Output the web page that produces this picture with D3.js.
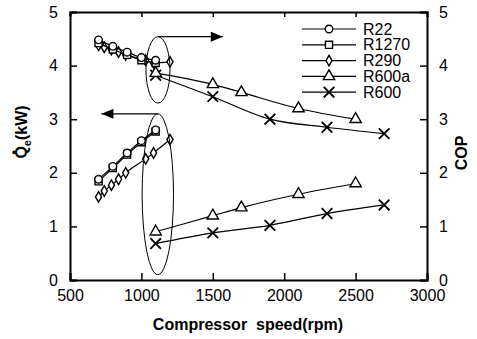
<!DOCTYPE html>
<html>
<head>
<meta charset="utf-8">
<script src="https://cdn.jsdelivr.net/npm/d3@7"></script>
<style>
  body { margin: 0; background: #fff; }
  text { font-family: "Liberation Sans", Arial, sans-serif; fill: #000; }
</style>
</head>
<body>
<svg id="chart" width="477" height="339"></svg>
<script>
// series names / markers
const names = ['R22', 'R1270', 'R290', 'R600a', 'R600']
const symbols = ['circle', 'square', 'diamond', 'triangle', 'cross']

// compressor speed (rpm) for each series
const speedR22 = [700, 800, 900, 1000, 1100]
const speedR1270 = [700, 800, 900, 1000, 1100]
const speedR290 = [700, 740, 790, 840, 890, 1030, 1085, 1200]
const speedR600a = [1100, 1500, 1700, 2100, 2500]
const speedR600 = [1100, 1500, 1900, 2300, 2700]

// cooling capacity Qe (kW)
const qeR22 = [1.88, 2.12, 2.37, 2.6, 2.8]
const qeR1270 = [1.84, 2.09, 2.34, 2.57, 2.77]
const qeR290 = [1.55, 1.66, 1.77, 1.88, 2.0, 2.26, 2.37, 2.62]
const qeR600a = [0.9, 1.2, 1.35, 1.6, 1.8]
const qeR600 = [0.68, 0.88, 1.02, 1.24, 1.4]

// COP
const copR22 = [4.48, 4.36, 4.25, 4.15, 4.1]
const copR1270 = [4.42, 4.3, 4.2, 4.1, 4.05]
const copR290 = [4.38, 4.34, 4.3, 4.25, 4.2, 4.1, 4.05, 4.07]
const copR600a = [3.86, 3.65, 3.5, 3.2, 3.0]
const copR600 = [3.82, 3.42, 3.0, 2.85, 2.73]

const xTicks = [500, 1000, 1500, 2000, 2500, 3000]
const yTicks = [0, 1, 2, 3, 4, 5]

const speeds = [speedR22, speedR1270, speedR290, speedR600a, speedR600]
const qes = [qeR22, qeR1270, qeR290, qeR600a, qeR600]
const cops = [copR22, copR1270, copR290, copR600a, copR600]

const svg = d3.select('#chart')
const margin = { left: 70, right: 427, top: 12, bottom: 280 }

const x = d3.scaleLinear().domain([500, 3000]).range([margin.left, margin.right])
const y = d3.scaleLinear().domain([0, 5]).range([margin.bottom, margin.top])
const fmt = d3.format('d')

// axes (inward ticks)
svg.append('g').attr('transform', `translate(0,${margin.bottom})`)
  .call(d3.axisBottom(x).tickValues(xTicks).tickFormat(fmt).tickSize(-7).tickPadding(10))
svg.append('g').attr('transform', `translate(0,${margin.top})`)
  .call(d3.axisTop(x).tickValues(xTicks).tickSize(-5).tickFormat(''))
svg.append('g').attr('transform', `translate(${margin.left},0)`)
  .call(d3.axisLeft(y).tickValues(yTicks).tickFormat(fmt).tickSize(-7).tickPadding(12))
svg.append('g').attr('transform', `translate(${margin.right},0)`)
  .call(d3.axisRight(y).tickValues(yTicks).tickFormat(fmt).tickSize(-7).tickPadding(12))

svg.selectAll('.domain').attr('stroke', '#000').attr('stroke-width', 2)
svg.selectAll('.tick line').attr('stroke', '#000').attr('stroke-width', 1.5)
svg.selectAll('.tick text').style('font-size', '16px').attr('fill', '#000')

// axis titles
svg.append('text')
  .attr('x', 248).attr('y', 330)
  .attr('text-anchor', 'middle')
  .style('font-size', '16px').style('font-weight', 'bold')
  .attr('xml:space', 'preserve')
  .text('Compressor  speed(rpm)')

const ylG = svg.append('g').attr('transform', 'translate(27,132) rotate(-90)')
const yl = ylG.append('text')
  .attr('text-anchor', 'middle')
  .style('font-size', '16px').style('font-weight', 'bold')
const qSpan = yl.append('tspan').text('Q')
yl.append('tspan').attr('dy', 4).style('font-size', '11px').text('e')
yl.append('tspan').attr('dy', -4).text('(kW)')
// dot over the Q (flow rate)
const qBox = qSpan.node().getBBox()
ylG.append('circle')
  .attr('cx', qBox.x + qBox.width / 2)
  .attr('cy', qBox.y + 1)
  .attr('r', 1.8)
  .attr('fill', '#000')

svg.append('text')
  .attr('transform', 'translate(467,153) rotate(-90)')
  .attr('text-anchor', 'middle')
  .style('font-size', '16px').style('font-weight', 'bold')
  .text('COP')

// markers
const symbolMap = {
  circle: d3.symbol().type(d3.symbolCircle).size(45),
  square: d3.symbol().type(d3.symbolSquare).size(50),
  diamond: d3.symbol().type(d3.symbolDiamond).size(32),
  triangle: d3.symbol().type(d3.symbolTriangle).size(55),
  cross: d3.symbol().type(d3.symbolX).size(75)
}

const line = d3.line()
  .x(d => x(d[0]))
  .y(d => y(d[1]))
  .curve(d3.curveMonotoneX)

function drawSeries (xs, ys, sym) {
  const pts = xs.map((v, i) => [v, ys[i]])
  svg.append('path')
    .attr('d', line(pts))
    .attr('fill', 'none')
    .attr('stroke', '#000')
    .attr('stroke-width', 1.2)
  svg.append('g').selectAll('path')
    .data(pts)
    .enter()
    .append('path')
    .attr('transform', d => `translate(${x(d[0])},${y(d[1])})`)
    .attr('d', symbolMap[sym]())
    .attr('fill', sym === 'cross' ? 'none' : '#fff')
    .attr('stroke', '#000')
    .attr('stroke-width', sym === 'cross' ? 1.8 : 1.4)
}

// draw back to front so R22 sits on top
for (let i = names.length - 1; i >= 0; i--) {
  drawSeries(speeds[i], qes[i], symbols[i])
  drawSeries(speeds[i], cops[i], symbols[i])
}

// annotations: ellipses with arrows pointing to the relevant axis
svg.append('defs').append('marker')
  .attr('id', 'arrow')
  .attr('viewBox', '0 -5 12 10')
  .attr('refX', 12)
  .attr('refY', 0)
  .attr('markerUnits', 'userSpaceOnUse')
  .attr('markerWidth', 14)
  .attr('markerHeight', 10)
  .attr('orient', 'auto')
  .append('path')
  .attr('d', 'M0,-5L12,0L0,5Z')
  .attr('fill', '#000')

const ellipses = [
  { cx: 1116, cy: 3.92, rx: 84, ry: 0.62, to: 1570 },
  { cx: 1115, cy: 1.6, rx: 110, ry: 1.5, to: 720 }
]

ellipses.forEach(e => {
  svg.append('ellipse')
    .attr('cx', x(e.cx)).attr('cy', y(e.cy))
    .attr('rx', x(500 + e.rx) - x(500))
    .attr('ry', y(0) - y(e.ry))
    .attr('fill', 'none')
    .attr('stroke', '#000')
    .attr('stroke-width', 1)
  svg.append('line')
    .attr('x1', x(e.cx)).attr('y1', y(e.cy + e.ry))
    .attr('x2', x(e.to)).attr('y2', y(e.cy + e.ry))
    .attr('stroke', '#000')
    .attr('stroke-width', 1.2)
    .attr('marker-end', 'url(#arrow)')
})

// legend
const legend = svg.append('g').attr('transform', 'translate(302,29)')
names.forEach((n, i) => {
  const g = legend.append('g').attr('transform', `translate(0,${i * 15.8})`)
  g.append('line')
    .attr('x1', 0).attr('x2', 54)
    .attr('stroke', '#000').attr('stroke-width', 1.2)
  g.append('path')
    .attr('transform', 'translate(27,0)')
    .attr('d', symbolMap[symbols[i]]())
    .attr('fill', symbols[i] === 'cross' ? 'none' : '#fff')
    .attr('stroke', '#000')
    .attr('stroke-width', symbols[i] === 'cross' ? 1.8 : 1.4)
  g.append('text')
    .attr('x', 61).attr('y', 5.5)
    .style('font-size', '16px')
    .text(n)
})
</script>
</body>
</html>
